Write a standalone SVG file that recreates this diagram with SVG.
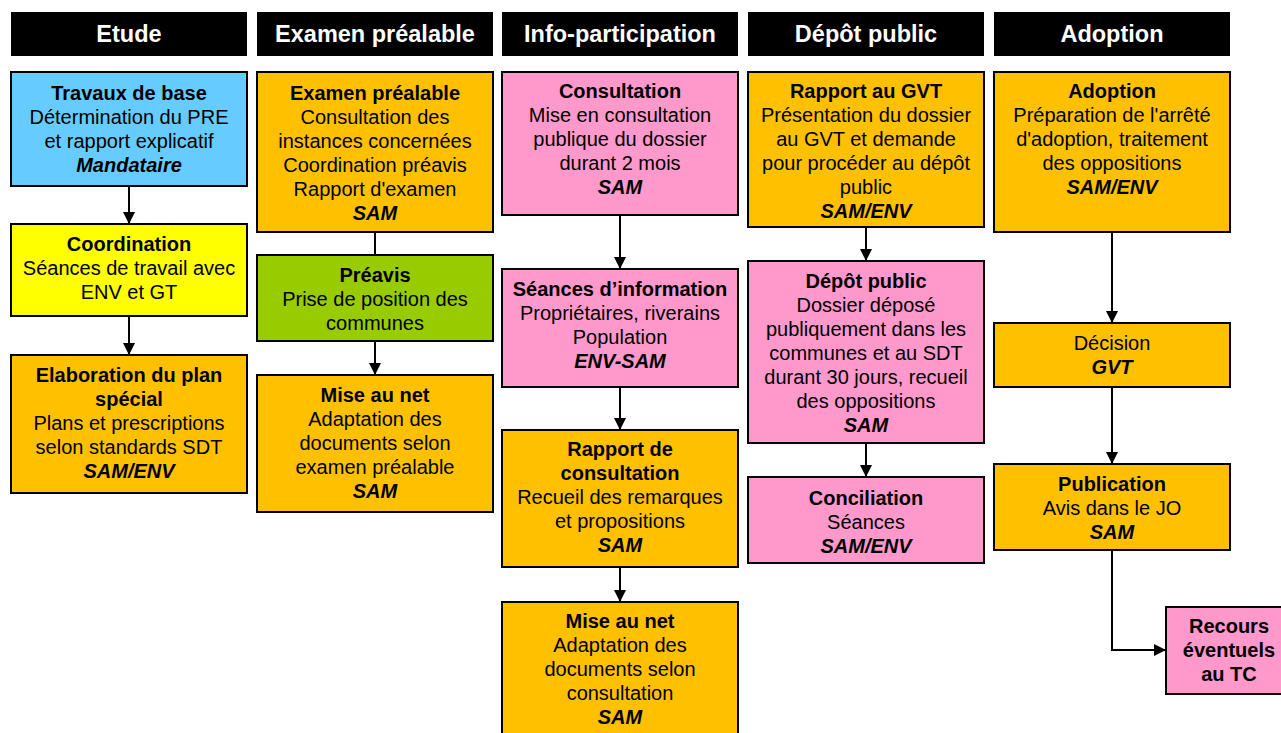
<svg xmlns="http://www.w3.org/2000/svg" width="1281" height="733" viewBox="0 0 1281 733">
<defs>
<marker id="ah" viewBox="0 0 10 10" refX="10" refY="5" markerWidth="6" markerHeight="6" orient="auto" markerUnits="strokeWidth">
<path d="M0,0 L10,5 L0,10 z" fill="#000"/>
</marker>
<style>
.hd{fill:#000}
.ht{fill:#fff;font-family:"Liberation Sans",Arial,sans-serif;font-weight:bold;font-size:23.5px;text-anchor:middle}
.bx{stroke:#000;stroke-width:2}
.or{fill:#FFC000}.bl{fill:#66CCFF}.ye{fill:#FFFF00}.gr{fill:#99CC00}.pk{fill:#FF99CC}
text.t{font-family:"Liberation Sans",Arial,sans-serif;font-size:20px;text-anchor:middle;fill:#000}
.b{font-weight:bold}
.i{font-weight:bold;font-style:italic}
.cn{fill:none;stroke:#000;stroke-width:2}
</style>
</defs>
<rect width="1281" height="733" fill="#fff"/>
<g id="headers">
<g id="h1"><rect class="hd" x="11" y="12" width="236" height="44"/><text class="ht" x="129" y="42">Etude</text></g>
<g id="h2"><rect class="hd" x="257" y="12" width="236" height="44"/><text class="ht" x="375" y="42">Examen préalable</text></g>
<g id="h3"><rect class="hd" x="502" y="12" width="236" height="44"/><text class="ht" x="620" y="42">Info-participation</text></g>
<g id="h4"><rect class="hd" x="748" y="12" width="236" height="44"/><text class="ht" x="866" y="42">Dépôt public</text></g>
<g id="h5"><rect class="hd" x="994" y="12" width="236" height="44"/><text class="ht" x="1112" y="42">Adoption</text></g>
</g>
<g id="connectors">
<line class="cn" x1="129" y1="186" x2="129" y2="224" marker-end="url(#ah)"/>
<line class="cn" x1="129" y1="316" x2="129" y2="355" marker-end="url(#ah)"/>
<line class="cn" x1="375" y1="232" x2="375" y2="255"/>
<line class="cn" x1="375" y1="341" x2="375" y2="375" marker-end="url(#ah)"/>
<line class="cn" x1="620" y1="215" x2="620" y2="269" marker-end="url(#ah)"/>
<line class="cn" x1="620" y1="387" x2="620" y2="430" marker-end="url(#ah)"/>
<line class="cn" x1="620" y1="567" x2="620" y2="602" marker-end="url(#ah)"/>
<line class="cn" x1="866" y1="227" x2="866" y2="261" marker-end="url(#ah)"/>
<line class="cn" x1="866" y1="443" x2="866" y2="477" marker-end="url(#ah)"/>
<line class="cn" x1="1112" y1="232" x2="1112" y2="323" marker-end="url(#ah)"/>
<line class="cn" x1="1112" y1="387" x2="1112" y2="464" marker-end="url(#ah)"/>
<polyline class="cn" points="1112,550 1112,650 1166,650" marker-end="url(#ah)"/>
</g>
<g id="travaux"><rect class="bx bl" x="11" y="72" width="236" height="114"/>
<text class="t" x="129"><tspan class="b" x="129" y="100">Travaux de base</tspan><tspan x="129" y="124">Détermination du PRE</tspan><tspan x="129" y="148">et rapport explicatif</tspan><tspan class="i" x="129" y="172">Mandataire</tspan></text></g>
<g id="coordination"><rect class="bx ye" x="11" y="224" width="236" height="92"/>
<text class="t"><tspan class="b" x="129" y="251">Coordination</tspan><tspan x="129" y="275">Séances de travail avec</tspan><tspan x="129" y="299">ENV et GT</tspan></text></g>
<g id="elaboration"><rect class="bx or" x="11" y="355" width="236" height="138"/>
<text class="t"><tspan class="b" x="129" y="382">Elaboration du plan</tspan><tspan class="b" x="129" y="406">spécial</tspan><tspan x="129" y="430">Plans et prescriptions</tspan><tspan x="129" y="454">selon standards SDT</tspan><tspan class="i" x="129" y="478">SAM/ENV</tspan></text></g>
<g id="examen"><rect class="bx or" x="257" y="72" width="236" height="160"/>
<text class="t"><tspan class="b" x="375" y="100">Examen préalable</tspan><tspan x="375" y="124">Consultation des</tspan><tspan x="375" y="148">instances concernées</tspan><tspan x="375" y="172">Coordination préavis</tspan><tspan x="375" y="196">Rapport d'examen</tspan><tspan class="i" x="375" y="220">SAM</tspan></text></g>
<g id="preavis"><rect class="bx gr" x="257" y="255" width="236" height="86"/>
<text class="t"><tspan class="b" x="375" y="282">Préavis</tspan><tspan x="375" y="306">Prise de position des</tspan><tspan x="375" y="330">communes</tspan></text></g>
<g id="miseaunet1"><rect class="bx or" x="257" y="375" width="236" height="137"/>
<text class="t"><tspan class="b" x="375" y="402">Mise au net</tspan><tspan x="375" y="426">Adaptation des</tspan><tspan x="375" y="450">documents selon</tspan><tspan x="375" y="474">examen préalable</tspan><tspan class="i" x="375" y="498">SAM</tspan></text></g>
<g id="consultation"><rect class="bx pk" x="502" y="72" width="236" height="143"/>
<text class="t"><tspan class="b" x="620" y="98">Consultation</tspan><tspan x="620" y="122">Mise en consultation</tspan><tspan x="620" y="146">publique du dossier</tspan><tspan x="620" y="170">durant 2 mois</tspan><tspan class="i" x="620" y="194">SAM</tspan></text></g>
<g id="seances"><rect class="bx pk" x="502" y="269" width="236" height="118"/>
<text class="t"><tspan class="b" x="620" y="296">Séances d’information</tspan><tspan x="620" y="320">Propriétaires, riverains</tspan><tspan x="620" y="344">Population</tspan><tspan class="i" x="620" y="368">ENV-SAM</tspan></text></g>
<g id="rapportconsult"><rect class="bx or" x="502" y="430" width="236" height="137"/>
<text class="t"><tspan class="b" x="620" y="456">Rapport de</tspan><tspan class="b" x="620" y="480">consultation</tspan><tspan x="620" y="504">Recueil des remarques</tspan><tspan x="620" y="528">et propositions</tspan><tspan class="i" x="620" y="552">SAM</tspan></text></g>
<g id="miseaunet2"><rect class="bx or" x="502" y="602" width="236" height="140"/>
<text class="t"><tspan class="b" x="620" y="628">Mise au net</tspan><tspan x="620" y="652">Adaptation des</tspan><tspan x="620" y="676">documents selon</tspan><tspan x="620" y="700">consultation</tspan><tspan class="i" x="620" y="724">SAM</tspan></text></g>
<g id="rapportgvt"><rect class="bx or" x="748" y="72" width="236" height="155"/>
<text class="t"><tspan class="b" x="866" y="98">Rapport au GVT</tspan><tspan x="866" y="122">Présentation du dossier</tspan><tspan x="866" y="146">au GVT et demande</tspan><tspan x="866" y="170">pour procéder au dépôt</tspan><tspan x="866" y="194">public</tspan><tspan class="i" x="866" y="218">SAM/ENV</tspan></text></g>
<g id="depot"><rect class="bx pk" x="748" y="261" width="236" height="182"/>
<text class="t"><tspan class="b" x="866" y="288">Dépôt public</tspan><tspan x="866" y="312">Dossier déposé</tspan><tspan x="866" y="336">publiquement dans les</tspan><tspan x="866" y="360">communes et au SDT</tspan><tspan x="866" y="384">durant 30 jours, recueil</tspan><tspan x="866" y="408">des oppositions</tspan><tspan class="i" x="866" y="432">SAM</tspan></text></g>
<g id="conciliation"><rect class="bx pk" x="748" y="477" width="236" height="86"/>
<text class="t"><tspan class="b" x="866" y="505">Conciliation</tspan><tspan x="866" y="529">Séances</tspan><tspan class="i" x="866" y="553">SAM/ENV</tspan></text></g>
<g id="adoption"><rect class="bx or" x="994" y="72" width="236" height="160"/>
<text class="t"><tspan class="b" x="1112" y="98">Adoption</tspan><tspan x="1112" y="122">Préparation de l'arrêté</tspan><tspan x="1112" y="146">d'adoption, traitement</tspan><tspan x="1112" y="170">des oppositions</tspan><tspan class="i" x="1112" y="194">SAM/ENV</tspan></text></g>
<g id="decision"><rect class="bx or" x="994" y="323" width="236" height="64"/>
<text class="t"><tspan x="1112" y="350">Décision</tspan><tspan class="i" x="1112" y="374">GVT</tspan></text></g>
<g id="publication"><rect class="bx or" x="994" y="464" width="236" height="86"/>
<text class="t"><tspan class="b" x="1112" y="491">Publication</tspan><tspan x="1112" y="515">Avis dans le JO</tspan><tspan class="i" x="1112" y="539">SAM</tspan></text></g>
<g id="recours"><rect class="bx pk" x="1166" y="607" width="126" height="87"/>
<text class="t"><tspan class="b" x="1229" y="633">Recours</tspan><tspan class="b" x="1229" y="657">éventuels</tspan><tspan class="b" x="1229" y="681">au TC</tspan></text></g>
</svg>
